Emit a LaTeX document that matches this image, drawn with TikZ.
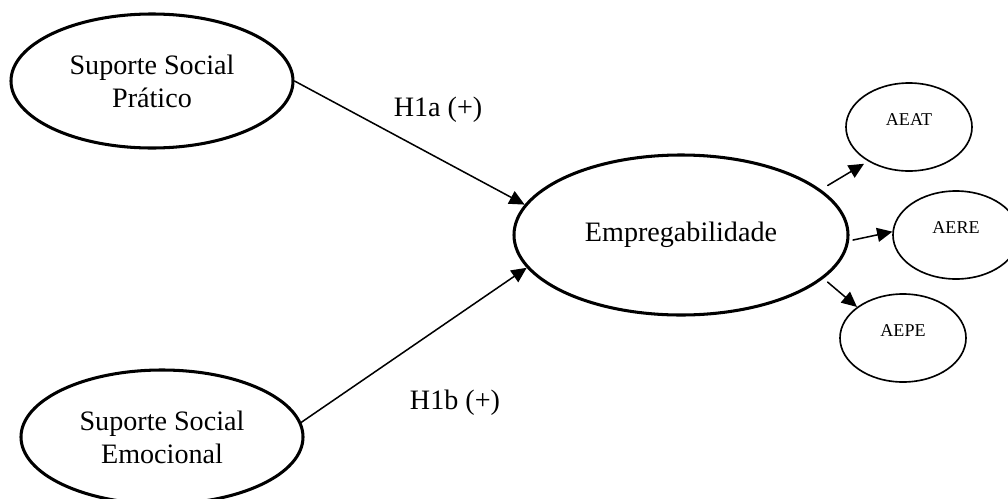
\documentclass[tikz,border=0pt]{standalone}
\usepackage{fontspec}
\setmainfont{Liberation Serif}
\usetikzlibrary{shapes.geometric,arrows.meta}

\begin{document}
\begin{tikzpicture}[x=0.015cm, y=-0.015cm, line cap=round, line join=round,
	construct/.style={ellipse, draw, line width=1.3pt, inner sep=0pt, align=center,
		font=\fontsize{12}{14}\selectfont},
	indicator/.style={ellipse, draw, line width=0.7pt, inner sep=0pt, text depth=6pt,
		minimum width=1.89cm, minimum height=1.32cm, font=\fontsize{7.7}{9}\selectfont},
	hyp/.style={-{Triangle[length=6.5pt,width=6pt]}, line width=0.65pt},
	load/.style={-{Triangle[length=6.5pt,width=6pt]}, line width=0.65pt}]
		
		% Frame of the picture
		\clip (0,0) rectangle (1008,498);
		
		% Independent constructs
		\node[construct, minimum width=4.23cm, minimum height=2.01cm] (psp) at (152,81) {Suporte Social\\Prático};
		\node[construct, minimum width=4.23cm, minimum height=2.01cm] (pse) at (162,437) {Suporte Social\\Emocional};
		
		% Dependent construct
		\node[construct, minimum width=5.01cm, minimum height=2.4cm] (emp) at (681,235) {Empregabilidade};
		
		% Dimensions of employability
		\node[indicator] (aeat) at (909,127) {AEAT};
		\node[indicator] (aere) at (956,235) {AERE};
		\node[indicator] (aepe) at (903,338) {AEPE};
		
		% Hypotheses
		\draw[hyp] (psp.east) -- (emp.169);
		\draw[hyp] (pse.6) -- (emp.192);
		\node[font=\fontsize{12}{14}\selectfont] (h1a) at (438,110) {H1a (+)};
		\node[font=\fontsize{12}{14}\selectfont] (h1b) at (455,403) {H1b (+)};
		
		% Loadings
		\draw[load, shorten <=3.4pt, shorten >=2pt] (emp.18) -- (aeat.220);
		\draw[load, shorten <=1.7pt] (emp.358) -- (aere.177);
		\draw[load, shorten <=2.3pt] (emp.343) -- (aepe.146);
		
	\end{tikzpicture}
\end{document}
